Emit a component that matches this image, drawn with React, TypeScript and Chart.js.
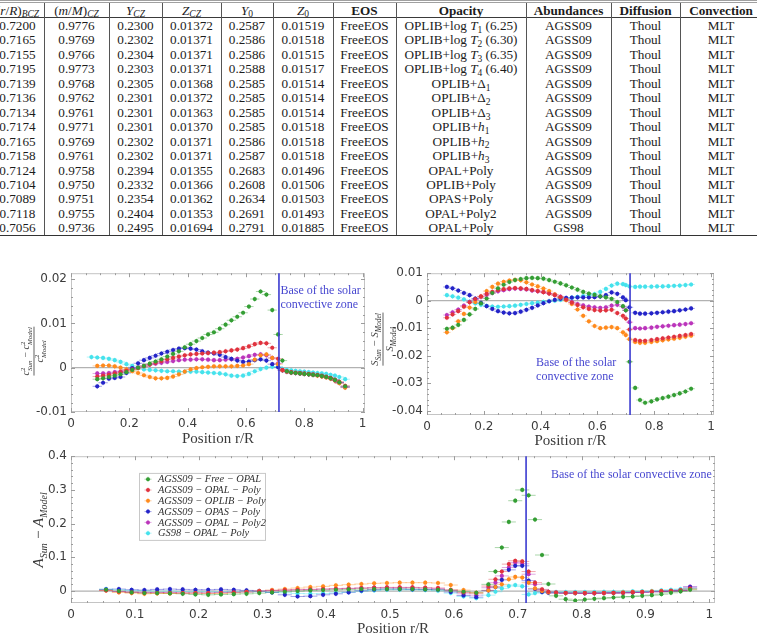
import React, { useEffect, useRef } from "react";
import { Chart, registerables } from "chart.js";

Chart.register(...registerables);

// ---------------- model table ----------------
const rBcz = ["0.7200", "0.7165", "0.7155", "0.7195", "0.7139", "0.7136", "0.7134", "0.7174", "0.7165", "0.7158", "0.7124", "0.7104", "0.7089", "0.7118", "0.7056"];
const mCz = ["0.9776", "0.9769", "0.9766", "0.9773", "0.9768", "0.9762", "0.9761", "0.9771", "0.9769", "0.9761", "0.9758", "0.9750", "0.9751", "0.9755", "0.9736"];
const yCz = ["0.2300", "0.2302", "0.2304", "0.2303", "0.2305", "0.2301", "0.2301", "0.2301", "0.2302", "0.2302", "0.2394", "0.2332", "0.2354", "0.2404", "0.2495"];
const zCz = ["0.01372", "0.01371", "0.01371", "0.01371", "0.01368", "0.01372", "0.01363", "0.01370", "0.01371", "0.01371", "0.01355", "0.01366", "0.01362", "0.01353", "0.01694"];
const yInit = ["0.2587", "0.2586", "0.2586", "0.2588", "0.2585", "0.2585", "0.2585", "0.2585", "0.2586", "0.2587", "0.2683", "0.2608", "0.2634", "0.2691", "0.2791"];
const zInit = ["0.01519", "0.01518", "0.01515", "0.01517", "0.01514", "0.01514", "0.01514", "0.01518", "0.01518", "0.01518", "0.01496", "0.01506", "0.01503", "0.01493", "0.01885"];
const eosList = ["FreeEOS", "FreeEOS", "FreeEOS", "FreeEOS", "FreeEOS", "FreeEOS", "FreeEOS", "FreeEOS", "FreeEOS", "FreeEOS", "FreeEOS", "FreeEOS", "FreeEOS", "FreeEOS", "FreeEOS"];
const opacityList = ["OPLIB+log T_1 (6.25)", "OPLIB+log T_2 (6.30)", "OPLIB+log T_3 (6.35)", "OPLIB+log T_4 (6.40)", "OPLIB+Δ_1", "OPLIB+Δ_2", "OPLIB+Δ_3", "OPLIB+h_1", "OPLIB+h_2", "OPLIB+h_3", "OPAL+Poly", "OPLIB+Poly", "OPAS+Poly", "OPAL+Poly2", "OPAL+Poly"];
const abundanceList = ["AGSS09", "AGSS09", "AGSS09", "AGSS09", "AGSS09", "AGSS09", "AGSS09", "AGSS09", "AGSS09", "AGSS09", "AGSS09", "AGSS09", "AGSS09", "AGSS09", "GS98"];
const diffusionList = ["Thoul", "Thoul", "Thoul", "Thoul", "Thoul", "Thoul", "Thoul", "Thoul", "Thoul", "Thoul", "Thoul", "Thoul", "Thoul", "Thoul", "Thoul"];
const convectionList = ["MLT", "MLT", "MLT", "MLT", "MLT", "MLT", "MLT", "MLT", "MLT", "MLT", "MLT", "MLT", "MLT", "MLT", "MLT"];

// ---------------- series ----------------
const seriesLabels = [
  "AGSS09 − Free − OPAL",
  "AGSS09 − OPAL − Poly",
  "AGSS09 − OPLIB − Poly",
  "AGSS09 − OPAS − Poly",
  "AGSS09 − OPAL − Poly2",
  "GS98 − OPAL − Poly",
];
const COLORS = ["#349e34", "#e0323e", "#ff8a1c", "#2424c8", "#bb35bb", "#45e2ec"];

// sound-speed relative differences
const rA = [0.07, 0.09, 0.11, 0.13, 0.15, 0.17, 0.19, 0.21, 0.23, 0.25, 0.27, 0.29, 0.31, 0.33, 0.35, 0.37, 0.39, 0.41, 0.43, 0.45, 0.47, 0.49, 0.51, 0.53, 0.55, 0.57, 0.59, 0.61, 0.63, 0.65, 0.67, 0.69, 0.71,
  0.725, 0.74, 0.755, 0.77, 0.785, 0.8, 0.815, 0.83, 0.845, 0.86, 0.875, 0.89, 0.905, 0.92, 0.94];
const greenA = [null, -0.0026, -0.0024, -0.0021, -0.0018, -0.0015, -0.0010, -0.0005, 0.0000, 0.0004, 0.0009, 0.0014, 0.0019, 0.0025, 0.0031, 0.0037, 0.0046, 0.0053, 0.0060, 0.0067, 0.0075, 0.0080, 0.0088, 0.0097, 0.0107, 0.0115, 0.0124, 0.0138, 0.0155, 0.0172, 0.0165, 0.0130, 0.0075,
  0.0016, -0.0008, -0.0011, -0.0012, -0.0013, -0.0014, -0.0015, -0.0016, -0.0017, -0.0019, -0.0021, -0.0024, -0.0028, -0.0033, -0.0042];
const redA = [null, -0.0020, -0.0018, -0.0016, -0.0013, -0.0010, -0.0007, -0.0004, -0.0001, 0.0003, 0.0007, 0.0011, 0.0015, 0.0019, 0.0022, 0.0025, 0.0028, 0.0030, 0.0031, 0.0032, 0.0033, 0.0034, 0.0035, 0.0037, 0.0039, 0.0041, 0.0044, 0.0048, 0.0053, 0.0056, 0.0055, 0.0045, 0.0020,
  -0.0005, -0.0008, -0.0010, -0.0011, -0.0012, -0.0013, -0.0014, -0.0015, -0.0016, -0.0018, -0.0020, -0.0023, -0.0027, -0.0032, -0.0041];
const orangeA = [null, 0.0004, 0.0005, 0.0005, 0.0003, 0.0000, -0.0004, -0.0008, -0.0012, -0.0017, -0.0021, -0.0024, -0.0024, -0.0023, -0.0020, -0.0015, -0.0009, -0.0004, -0.0001, 0.0001, 0.0002, 0.0003, 0.0003, 0.0003, 0.0003, 0.0004, 0.0005, 0.0008, 0.0018, 0.0028, 0.0030, 0.0022, 0.0008,
  -0.0006, -0.0009, -0.0011, -0.0012, -0.0013, -0.0014, -0.0015, -0.0016, -0.0018, -0.0020, -0.0022, -0.0025, -0.0029, -0.0035, -0.0045];
const blueA = [null, -0.0042, -0.0034, -0.0025, -0.0023, -0.0021, -0.0012, -0.0001, 0.0010, 0.0017, 0.0022, 0.0027, 0.0032, 0.0036, 0.0040, 0.0043, 0.0044, 0.0043, 0.0041, 0.0037, 0.0034, 0.0032, 0.0029, 0.0024, 0.0020, 0.0016, 0.0013, 0.0014, 0.0017, 0.0019, 0.0016, 0.0008, 0.0001,
  -0.0006, -0.0009, -0.0011, -0.0012, -0.0013, -0.0014, -0.0015, -0.0016, -0.0017, -0.0019, -0.0021, -0.0024, -0.0028, -0.0034, -0.0044];
const magentaA = [null, -0.0013, -0.0013, -0.0012, -0.0010, -0.0008, -0.0005, -0.0002, 0.0001, 0.0004, 0.0007, 0.0009, 0.0011, 0.0013, 0.0015, 0.0017, 0.0018, 0.0018, 0.0019, 0.0019, 0.0018, 0.0017, 0.0017, 0.0018, 0.0019, 0.0020, 0.0023, 0.0026, 0.0029, 0.0030, 0.0028, 0.0022, 0.0010,
  -0.0006, -0.0009, -0.0011, -0.0012, -0.0013, -0.0014, -0.0015, -0.0016, -0.0017, -0.0019, -0.0021, -0.0024, -0.0029, -0.0034, -0.0043];
const cyanA = [0.0024, 0.0023, 0.0022, 0.0020, 0.0017, 0.0013, 0.0008, 0.0004, 0.0000, -0.0004, -0.0005, -0.0006, -0.0007, -0.0008, -0.0008, -0.0009, -0.0009, -0.0009, -0.0009, -0.0010, -0.0011, -0.0012, -0.0013, -0.0015, -0.0018, -0.0019, -0.0018, -0.0014, -0.0008, -0.0003, 0.0000, 0.0002, 0.0002,
  -0.0003, -0.0005, -0.0006, -0.0007, -0.0008, -0.0009, -0.0010, -0.0011, -0.0012, -0.0013, -0.0014, -0.0016, -0.0018, -0.0021, -0.0026];

// entropy-proxy relative differences
const rB = [0.07, 0.09, 0.11, 0.13, 0.15, 0.17, 0.19, 0.21, 0.23, 0.25, 0.27, 0.29, 0.31, 0.33, 0.35, 0.37, 0.39, 0.41, 0.43, 0.45, 0.47, 0.49, 0.51, 0.53, 0.55, 0.57, 0.59, 0.61, 0.63, 0.65, 0.67, 0.69,
  0.70, 0.713, 0.733, 0.75, 0.768, 0.79, 0.81, 0.83, 0.85, 0.87, 0.89, 0.91, 0.93];
const greenB = [-0.0102, -0.0098, -0.0088, -0.0070, -0.0050, -0.0030, -0.0010, 0.0008, 0.0028, 0.0045, 0.0058, 0.0068, 0.0075, 0.0079, 0.0082, 0.0083, 0.0082, 0.0080, 0.0075, 0.0069, 0.0063, 0.0056, 0.0048, 0.0040, 0.0032, 0.0026, 0.0021, 0.0016, 0.0012, 0.0007, -0.0005, -0.0020,
  -0.0035, -0.0222, -0.0317, -0.0361, -0.0371, -0.0366, -0.0359, -0.0354, -0.0349, -0.0343, -0.0337, -0.0330, -0.0320];
const redB = [-0.0062, -0.0050, -0.0038, -0.0022, -0.0006, 0.0006, 0.0016, 0.0025, 0.0032, 0.0038, 0.0042, 0.0045, 0.0046, 0.0045, 0.0043, 0.0039, 0.0035, 0.0031, 0.0026, 0.0020, 0.0013, 0.0004, -0.0007, -0.0016, -0.0024, -0.0030, -0.0034, -0.0036, -0.0035, -0.0033, -0.0045, -0.0055,
  -0.0065, -0.0105, -0.0143, -0.0146, -0.0146, -0.0143, -0.0140, -0.0137, -0.0134, -0.0131, -0.0128, -0.0125, -0.0121];
const orangeB = [-0.0115, -0.0100, -0.0075, -0.0048, -0.0025, -0.0005, 0.0015, 0.0035, 0.0050, 0.0062, 0.0069, 0.0073, 0.0076, 0.0074, 0.0067, 0.0059, 0.0052, 0.0044, 0.0035, 0.0023, 0.0012, 0.0002, -0.0012, -0.0032, -0.0055, -0.0075, -0.0092, -0.0100, -0.0098, -0.0096, -0.0100, -0.0115,
  -0.0125, -0.0140, -0.0150, -0.0153, -0.0153, -0.0150, -0.0147, -0.0144, -0.0141, -0.0138, -0.0135, -0.0131, -0.0127];
const blueB = [0.0050, 0.0045, 0.0037, 0.0028, 0.0020, 0.0008, -0.0008, -0.0020, -0.0030, -0.0038, -0.0043, -0.0046, -0.0045, -0.0040, -0.0033, -0.0026, -0.0017, -0.0009, -0.0002, 0.0003, 0.0007, 0.0010, 0.0011, 0.0012, 0.0012, 0.0012, 0.0013, 0.0015, 0.0020, 0.0030, 0.0025, 0.0012,
  0.0002, -0.0024, -0.0044, -0.0047, -0.0047, -0.0046, -0.0044, -0.0042, -0.0040, -0.0038, -0.0035, -0.0032, -0.0028];
const magentaB = [-0.0052, -0.0042, -0.0032, -0.0018, -0.0004, 0.0005, 0.0013, 0.0021, 0.0028, 0.0034, 0.0038, 0.0042, 0.0044, 0.0043, 0.0041, 0.0037, 0.0034, 0.0031, 0.0027, 0.0022, 0.0015, 0.0007, -0.0005, -0.0012, -0.0017, -0.0021, -0.0024, -0.0026, -0.0024, -0.0018, -0.0015, -0.0022,
  -0.0035, -0.0078, -0.0100, -0.0101, -0.0100, -0.0098, -0.0095, -0.0093, -0.0091, -0.0089, -0.0087, -0.0085, -0.0082];
const cyanB = [0.0020, 0.0016, 0.0011, 0.0005, -0.0003, -0.0010, -0.0015, -0.0019, -0.0021, -0.0022, -0.0021, -0.0020, -0.0018, -0.0015, -0.0012, -0.0009, -0.0007, -0.0004, -0.0002, 0.0000, 0.0003, 0.0007, 0.0011, 0.0014, 0.0017, 0.0020, 0.0024, 0.0032, 0.0043, 0.0055, 0.0062, 0.0060,
  0.0057, 0.0052, 0.0050, 0.0051, 0.0051, 0.0051, 0.0052, 0.0052, 0.0053, 0.0054, 0.0055, 0.0057, 0.0059];

// Ledoux discriminant differences
const rC = [0.055, 0.075, 0.095, 0.115, 0.135, 0.155, 0.175, 0.195, 0.215, 0.235, 0.255, 0.275, 0.295, 0.315, 0.335, 0.355, 0.375, 0.395, 0.415, 0.435, 0.455, 0.475, 0.495, 0.515, 0.535, 0.555, 0.575, 0.595, 0.615, 0.635,
  0.654, 0.665, 0.675, 0.686, 0.696, 0.707, 0.717, 0.727, 0.738, 0.748,
  0.76, 0.775, 0.79, 0.805, 0.82, 0.835, 0.85, 0.865, 0.88, 0.895, 0.91, 0.925, 0.94, 0.955, 0.97];
const greenC = [0.004, 0.000, -0.004, -0.006, -0.006, -0.007, -0.008, -0.010, -0.011, -0.010, -0.009, -0.008, -0.006, -0.004, -0.002, 0.000, 0.002, 0.003, 0.004, 0.005, 0.006, 0.006, 0.006, 0.006, 0.006, 0.005, 0.004, 0.002, -0.002, -0.005,
  0.020, 0.058, 0.129, 0.205, 0.268, 0.300, 0.284, 0.212, 0.107, 0.021,
  -0.014, -0.024, -0.028, -0.025, -0.023, -0.021, -0.019, -0.017, -0.016, -0.014, -0.012, -0.009, -0.005, -0.001, 0.004];
const redC = [0.002, -0.002, -0.004, -0.005, -0.005, -0.005, -0.006, -0.006, -0.006, -0.005, -0.004, -0.003, -0.001, 0.001, 0.003, 0.004, 0.005, 0.006, 0.007, 0.008, 0.009, 0.010, 0.011, 0.011, 0.011, 0.010, 0.009, 0.004, -0.004, -0.006,
  0.015, 0.035, 0.058, 0.080, 0.090, 0.088, 0.058, 0.025, 0.005, -0.002,
  -0.004, -0.005, -0.005, -0.006, -0.006, -0.006, -0.005, -0.005, -0.004, -0.003, -0.002, -0.001, 0.001, 0.002, 0.008];
const orangeC = [0.002, -0.004, -0.006, -0.008, -0.007, -0.007, -0.006, -0.006, -0.007, -0.007, -0.005, -0.002, 0.000, 0.003, 0.006, 0.009, 0.012, 0.014, 0.017, 0.019, 0.021, 0.023, 0.024, 0.025, 0.025, 0.025, 0.024, 0.018, 0.003, -0.005,
  0.002, 0.012, 0.020, 0.035, 0.042, 0.040, 0.025, 0.008, 0.000, -0.004,
  -0.005, -0.006, -0.006, -0.006, -0.006, -0.005, -0.005, -0.004, -0.003, -0.002, -0.001, 0.000, 0.001, 0.002, 0.006];
const blueC = [0.005, 0.006, 0.004, 0.003, 0.005, 0.006, 0.005, 0.004, 0.004, 0.005, 0.004, 0.002, 0.000, -0.004, -0.011, -0.016, -0.015, -0.011, -0.008, -0.004, 0.001, 0.004, 0.006, 0.006, 0.005, 0.005, 0.004, -0.003, -0.013, -0.018,
  0.002, 0.012, 0.033, 0.063, 0.075, 0.075, 0.031, 0.006, -0.003, -0.005,
  -0.005, -0.006, -0.006, -0.006, -0.006, -0.005, -0.005, -0.005, -0.004, -0.003, -0.002, -0.001, 0.000, 0.002, 0.012];
const magentaC = [0.003, -0.001, -0.003, -0.004, -0.004, -0.004, -0.005, -0.005, -0.005, -0.004, -0.003, -0.002, 0.000, 0.002, 0.003, 0.004, 0.005, 0.006, 0.007, 0.008, 0.009, 0.010, 0.010, 0.010, 0.010, 0.009, 0.008, 0.002, -0.008, -0.012,
  0.010, 0.025, 0.045, 0.070, 0.085, 0.081, 0.050, 0.020, 0.003, -0.003,
  -0.005, -0.006, -0.006, -0.007, -0.007, -0.006, -0.006, -0.005, -0.004, -0.003, -0.002, -0.001, 0.001, 0.003, 0.013];
const cyanC = [0.006, 0.004, 0.002, 0.001, 0.000, 0.000, -0.001, -0.002, -0.002, -0.002, -0.002, -0.002, -0.002, -0.003, -0.005, -0.007, -0.008, -0.007, -0.005, -0.003, 0.000, 0.002, 0.004, 0.004, 0.004, 0.003, 0.001, -0.006, -0.016, -0.021,
  -0.012, -0.002, 0.008, 0.015, 0.018, 0.014, -0.010, -0.006, -0.003, -0.003,
  -0.003, -0.003, -0.003, -0.003, -0.003, -0.002, -0.002, -0.002, -0.001, -0.001, 0.000, 0.002, 0.004, 0.006, 0.008];

// axis ticks
const xTicksTop = [0, 0.2, 0.4, 0.6, 0.8, 1];
const yTicksA = [-0.01, 0, 0.01, 0.02];
const yTicksB = [-0.04, -0.03, -0.02, -0.01, 0, 0.01];
const xTicksC = [0, 0.1, 0.2, 0.3, 0.4, 0.5, 0.6, 0.7, 0.8, 0.9, 1];
const yTicksC = [0, 0.1, 0.2, 0.3, 0.4];

// half-width of the radial resolution of each inversion point
const resolutionA = 0.016;
const resolutionB = 0.013;
const resolutionC = 0.011;

// base of the convective zone
const rCzA = 0.713;
const rCzB = 0.715;
const rCzC = 0.713;

// ---------------- drawing helpers ----------------
const SERIF = '"Liberation Serif", "Times New Roman", serif';
const SANS = '"DejaVu Sans", sans-serif';
const NOTE_BLUE = "#4848d0";
const CZ_BLUE = "#3b3bd0";

type Seg = { t?: string; it?: boolean; sup?: string; sub?: string };

function fontOf(size: number, it?: boolean) {
  return `${it ? "italic " : ""}${size}px ${SERIF}`;
}
function segW(ctx: CanvasRenderingContext2D, s: Seg, size: number, small: number) {
  if (s.t !== undefined) {
    ctx.font = fontOf(size, s.it);
    return ctx.measureText(s.t).width;
  }
  let w = 0;
  if (s.sup) { ctx.font = fontOf(small); w = Math.max(w, ctx.measureText(s.sup).width); }
  if (s.sub) { ctx.font = fontOf(small, true); w = Math.max(w, ctx.measureText(s.sub).width); }
  return w + 0.5;
}
function drawRich(ctx: CanvasRenderingContext2D, segs: Seg[], cx: number, baseY: number, size: number, small: number) {
  const total = segs.reduce((acc, s) => acc + segW(ctx, s, size, small), 0);
  let x = cx - total / 2;
  ctx.textAlign = "left";
  ctx.textBaseline = "alphabetic";
  for (const s of segs) {
    const w = segW(ctx, s, size, small);
    if (s.t !== undefined) {
      ctx.font = fontOf(size, s.it);
      ctx.fillText(s.t, x, baseY);
    } else {
      if (s.sup) { ctx.font = fontOf(small); ctx.fillText(s.sup, x, baseY - size * 0.42); }
      if (s.sub) { ctx.font = fontOf(small, true); ctx.fillText(s.sub, x, baseY + size * 0.28); }
    }
    x += w;
  }
  return total;
}

function withAlpha(hex: string, a: number) {
  const n = parseInt(hex.slice(1), 16);
  return `rgba(${(n >> 16) & 255},${(n >> 8) & 255},${n & 255},${a})`;
}

const fmt = (v: number | string) => String(Math.round(Number(v) * 1000) / 1000);

type YTitle = { dx: number; dy: number; num: Seg[]; den?: Seg[]; size: number; small: number };

type PanelSpec = {
  r: number[];
  series: (number | null)[][];
  xMin: number; xMax: number; yMin: number; yMax: number;
  xTicks: number[]; yTicks: number[];
  xMinor: number; yMinor: number;
  yAxisW: number; xAxisH: number; padTop: number; padRight: number;
  cz: number; spread: number;
  note: { x: number; y: number; lines: string[]; lh: number };
  xTitleDy: number;
  yTitle: YTitle;
  legend?: { dx: number; dy: number; w: number; h: number; rowH: number };
};

function near(list: number[], v: number) {
  return list.some((t) => Math.abs(t - v) < 1e-6);
}

function decorPlugin(spec: PanelSpec) {
  return {
    id: "decor",
    beforeDatasetsDraw(chart: any) {
      const { ctx, chartArea: a } = chart;
      const xs = chart.scales.x, ys = chart.scales.y;
      ctx.save();
      ctx.beginPath();
      ctx.rect(a.left, a.top, a.right - a.left, a.bottom - a.top);
      ctx.clip();
      // zero reference line
      const yz = ys.getPixelForValue(0);
      ctx.strokeStyle = "#b2b2b2";
      ctx.lineWidth = 1.3;
      ctx.beginPath();
      ctx.moveTo(a.left, yz);
      ctx.lineTo(a.right, yz);
      ctx.stroke();
      // resolution bars
      ctx.lineWidth = 1;
      chart.data.datasets.forEach((ds: any, i: number) => {
        ctx.strokeStyle = withAlpha(COLORS[i], 0.42);
        ctx.beginPath();
        ds.data.forEach((p: { x: number; y: number }) => {
          const py = ys.getPixelForValue(p.y);
          const px = xs.getPixelForValue(p.x);
          ctx.moveTo(xs.getPixelForValue(p.x - spec.spread), py);
          ctx.lineTo(xs.getPixelForValue(p.x + spec.spread), py);
          ctx.moveTo(px, py - 2.5);
          ctx.lineTo(px, py + 2.5);
        });
        ctx.stroke();
      });
      ctx.restore();
    },
    afterDatasetsDraw(chart: any) {
      const { ctx, chartArea: a } = chart;
      const xs = chart.scales.x, ys = chart.scales.y;
      ctx.save();
      // frame
      ctx.strokeStyle = "#c4c4c4";
      ctx.lineWidth = 1;
      ctx.strokeRect(a.left + 0.5, a.top + 0.5, a.right - a.left - 1, a.bottom - a.top - 1);
      // inward ticks on all sides
      ctx.strokeStyle = "#9c9c9c";
      ctx.beginPath();
      for (let k = Math.ceil(spec.xMin / spec.xMinor - 1e-9); k * spec.xMinor <= spec.xMax + 1e-9; k++) {
        const v = k * spec.xMinor;
        const px = Math.round(xs.getPixelForValue(v)) + 0.5;
        const L = near(spec.xTicks, v) ? 4 : 2;
        ctx.moveTo(px, a.bottom); ctx.lineTo(px, a.bottom - L);
        ctx.moveTo(px, a.top); ctx.lineTo(px, a.top + L);
      }
      for (let k = Math.ceil(spec.yMin / spec.yMinor - 1e-9); k * spec.yMinor <= spec.yMax + 1e-9; k++) {
        const v = k * spec.yMinor;
        const py = Math.round(ys.getPixelForValue(v)) + 0.5;
        const L = near(spec.yTicks, v) ? 4 : 2;
        ctx.moveTo(a.left, py); ctx.lineTo(a.left + L, py);
        ctx.moveTo(a.right, py); ctx.lineTo(a.right - L, py);
      }
      ctx.stroke();

      // base of the convective zone
      const cx = xs.getPixelForValue(spec.cz);
      ctx.strokeStyle = CZ_BLUE;
      ctx.lineWidth = 1.6;
      ctx.beginPath();
      ctx.moveTo(cx, a.top);
      ctx.lineTo(cx, a.bottom);
      ctx.stroke();
      ctx.fillStyle = NOTE_BLUE;
      ctx.font = `12px ${SERIF}`;
      ctx.textAlign = "left";
      ctx.textBaseline = "middle";
      const nx = xs.getPixelForValue(spec.note.x);
      const ny = ys.getPixelForValue(spec.note.y);
      spec.note.lines.forEach((ln, i) => ctx.fillText(ln, nx, ny + i * spec.note.lh));

      // axis titles
      ctx.fillStyle = "#3a3a3a";
      ctx.font = `15px ${SERIF}`;
      ctx.textAlign = "center";
      ctx.textBaseline = "middle";
      ctx.fillText("Position r/R", (a.left + a.right) / 2, a.bottom + spec.xTitleDy);

      const t = spec.yTitle;
      ctx.save();
      ctx.translate(a.left + t.dx, (a.top + a.bottom) / 2 + t.dy);
      ctx.rotate(-Math.PI / 2);
      if (t.den) {
        const wn = drawRich(ctx, t.num, 0, -t.small * 0.45 - 1.5, t.size, t.small);
        const wd = drawRich(ctx, t.den, 0, t.size * 0.78 + 1.5, t.size, t.small);
        const w = Math.max(wn, wd);
        ctx.fillRect(-w / 2, -0.4, w, 0.8);
      } else {
        drawRich(ctx, t.num, 0, t.size * 0.3, t.size, t.small);
      }
      ctx.restore();

      // legend
      if (spec.legend) {
        const L = spec.legend;
        const lx = a.left + L.dx, ly = a.top + L.dy;
        ctx.fillStyle = "#ffffff";
        ctx.fillRect(lx, ly, L.w, L.h);
        ctx.strokeStyle = "#c8c8c8";
        ctx.lineWidth = 1;
        ctx.strokeRect(lx + 0.5, ly + 0.5, L.w, L.h);
        seriesLabels.forEach((lab, i) => {
          const yy = ly + 6.3 + i * L.rowH;
          ctx.strokeStyle = withAlpha(COLORS[i], 0.45);
          ctx.beginPath();
          ctx.moveTo(lx + 5.5, yy); ctx.lineTo(lx + 12.5, yy);
          ctx.moveTo(lx + 9, yy - 2.5); ctx.lineTo(lx + 9, yy + 2.5);
          ctx.stroke();
          ctx.fillStyle = COLORS[i];
          ctx.beginPath();
          ctx.arc(lx + 9, yy, 2, 0, Math.PI * 2);
          ctx.fill();
          ctx.fillStyle = "#333";
          ctx.font = `italic 10.4px ${SERIF}`;
          ctx.textAlign = "left";
          ctx.textBaseline = "middle";
          ctx.fillText(lab, lx + 19, yy + 0.5);
        });
      }
      ctx.restore();
    },
  };
}

function buildConfig(spec: PanelSpec): any {
  const datasets = spec.series.map((s, i) => ({
    label: seriesLabels[i],
    data: spec.r
      .map((x, j) => ({ x, y: s[j] }))
      .filter((p) => p.y !== null && p.y !== undefined),
    backgroundColor: COLORS[i],
    borderColor: COLORS[i],
    pointRadius: 2.1,
    pointBorderWidth: 0,
    pointHoverRadius: 2.1,
    showLine: false,
  }));
  const tickFont = { family: SANS, size: 12 };
  return {
    type: "scatter",
    data: { datasets },
    options: {
      animation: false,
      responsive: false,
      events: [],
      layout: { padding: { top: spec.padTop, right: spec.padRight, left: 0, bottom: 0 } },
      plugins: { legend: { display: false }, tooltip: { enabled: false } },
      scales: {
        x: {
          type: "linear",
          min: spec.xMin,
          max: spec.xMax,
          border: { display: false },
          grid: { display: false, drawTicks: false },
          ticks: { color: "#3c3c3c", font: tickFont, padding: 5, maxRotation: 0, autoSkip: false, callback: fmt },
          afterBuildTicks: (s: any) => { s.ticks = spec.xTicks.map((v) => ({ value: v })); },
          afterFit: (s: any) => { s.height = spec.xAxisH; },
        },
        y: {
          type: "linear",
          min: spec.yMin,
          max: spec.yMax,
          border: { display: false },
          grid: { display: false, drawTicks: false },
          ticks: { color: "#3c3c3c", font: tickFont, padding: 4, autoSkip: false, callback: fmt },
          afterBuildTicks: (s: any) => { s.ticks = spec.yTicks.map((v) => ({ value: v })); },
          afterFit: (s: any) => { s.width = spec.yAxisW; },
        },
      },
    },
    plugins: [decorPlugin(spec)],
  };
}

const specA: PanelSpec = {
  r: rA,
  series: [greenA, redA, orangeA, blueA, magentaA, cyanA],
  xMin: 0, xMax: 1.008, yMin: -0.01, yMax: 0.02133,
  xTicks: xTicksTop, yTicks: yTicksA,
  xMinor: 0.05, yMinor: 0.002,
  yAxisW: 71, xAxisH: 40, padTop: 9, padRight: 15,
  cz: rCzA, spread: resolutionA,
  note: { x: 0.718, y: 0.0173, lines: ["Base of the solar", "convective zone"], lh: 14 },
  xTitleDy: 27,
  yTitle: {
    dx: -37, dy: 8.5, size: 10, small: 7,
    num: [{ t: "c", it: true }, { sup: "2", sub: "Sun" }, { t: " − " }, { t: "c", it: true }, { sup: "2", sub: "Model" }],
    den: [{ t: "c", it: true }, { sup: "2", sub: "Model" }],
  },
};

const specB: PanelSpec = {
  r: rB,
  series: [greenB, redB, orangeB, blueB, magentaB, cyanB],
  xMin: 0, xMax: 1.0106, yMin: -0.04155, yMax: 0.01,
  xTicks: xTicksTop, yTicks: yTicksB,
  xMinor: 0.05, yMinor: 0.002,
  yAxisW: 67, xAxisH: 37, padTop: 9, padRight: 43,
  cz: rCzB, spread: resolutionB,
  note: { x: 0.384, y: -0.0226, lines: ["Base of the solar", "convective zone"], lh: 13.5 },
  xTitleDy: 26,
  yTitle: {
    dx: -44, dy: -5, size: 10.5, small: 7.5,
    num: [{ t: "S", it: true }, { sub: "Sun" }, { t: " − " }, { t: "S", it: true }, { sub: "Model" }],
    den: [{ t: "S", it: true }, { sub: "Model" }],
  },
};

const specC: PanelSpec = {
  r: rC,
  series: [greenC, redC, orangeC, blueC, magentaC, cyanC],
  xMin: 0, xMax: 1.009, yMin: -0.0353, yMax: 0.4,
  xTicks: xTicksC, yTicks: yTicksC,
  xMinor: 0.025, yMinor: 0.02,
  yAxisW: 71, xAxisH: 32, padTop: 9, padRight: 42,
  cz: rCzC, spread: resolutionC,
  note: { x: 0.752, y: 0.345, lines: ["Base of the solar convective zone"], lh: 14 },
  xTitleDy: 26,
  yTitle: {
    dx: -33, dy: 0, size: 15, small: 10,
    num: [{ t: "A", it: true }, { sub: "Sun" }, { t: " − " }, { t: "A", it: true }, { sub: "Model" }],
  },
  legend: { dx: 68, dy: 16.7, w: 126, h: 67, rowH: 10.8 },
};

function Plot({ left, top, width, height, spec }: { left: number; top: number; width: number; height: number; spec: PanelSpec }) {
  const ref = useRef<HTMLCanvasElement | null>(null);
  useEffect(() => {
    if (!ref.current) return;
    const chart = new Chart(ref.current, buildConfig(spec));
    return () => chart.destroy();
  }, [spec]);
  return (
    <canvas
      ref={ref}
      width={width}
      height={height}
      style={{ position: "absolute", left, top, width, height, display: "block" }}
    />
  );
}

// ---------------- table ----------------
const COL_EDGES = [-9, 44, 109, 162, 221, 273, 333, 396, 526, 611, 680, 762];
const HEADER_Y = 10.5;
const ROW0_Y = 26;
const ROW_PITCH = 14.45;

const subStyle: React.CSSProperties = { fontSize: "0.72em", position: "relative", top: "0.3em" };

function renderOpacity(s: string) {
  const parts = s.split(/([A-Za-zΔ])_(\d)/);
  const out: React.ReactNode[] = [];
  for (let i = 0; i < parts.length; i += 3) {
    if (parts[i]) out.push(<span key={`p${i}`}>{parts[i]}</span>);
    if (i + 2 < parts.length) {
      const sym = parts[i + 1];
      out.push(sym === "Δ" ? <span key={`s${i}`}>{sym}</span> : <i key={`s${i}`}>{sym}</i>);
      out.push(<span key={`d${i}`} style={subStyle}>{parts[i + 2]}</span>);
    }
  }
  return out;
}

const HEADERS: React.ReactNode[] = [
  <span>(<i>r</i>/<i>R</i>)<span style={subStyle}><i>BCZ</i></span></span>,
  <span>(<i>m</i>/<i>M</i>)<span style={subStyle}><i>CZ</i></span></span>,
  <span><i>Y</i><span style={subStyle}><i>CZ</i></span></span>,
  <span><i>Z</i><span style={subStyle}><i>CZ</i></span></span>,
  <span><i>Y</i><span style={subStyle}>0</span></span>,
  <span><i>Z</i><span style={subStyle}>0</span></span>,
  <b>EOS</b>,
  <b>Opacity</b>,
  <b>Abundances</b>,
  <b>Diffusion</b>,
  <b>Convection</b>,
];

function Cell({ col, cy, children }: { col: number; cy: number; children: React.ReactNode }) {
  const l = COL_EDGES[col];
  const w = COL_EDGES[col + 1] - l;
  return (
    <div
      style={{
        position: "absolute",
        left: l,
        width: w,
        top: cy - 8,
        height: 16,
        lineHeight: "16px",
        textAlign: "center",
        whiteSpace: "nowrap",
      }}
    >
      {children}
    </div>
  );
}

function ModelTable() {
  const columns = [rBcz, mCz, yCz, zCz, yInit, zInit, eosList, opacityList, abundanceList, diffusionList, convectionList];
  return (
    <div
      style={{
        position: "absolute",
        left: 0,
        top: 0,
        width: 757,
        height: 240,
        fontFamily: SERIF,
        fontSize: 13.2,
        color: "#1c1c1c",
      }}
    >
      <div style={{ position: "absolute", left: 0, top: 0, width: 757, height: 1, background: "#a0a0a0" }} />
      <div style={{ position: "absolute", left: 0, top: 2, width: 757, height: 1, background: "#a0a0a0" }} />
      <div style={{ position: "absolute", left: 0, top: 17, width: 757, height: 1, background: "#3a3a3a" }} />
      <div style={{ position: "absolute", left: 0, top: 234.5, width: 757, height: 1.6, background: "#333" }} />
      {COL_EDGES.slice(1, -1).map((e) => (
        <div key={e} style={{ position: "absolute", left: e, top: 3, width: 1, height: 232, background: "#555" }} />
      ))}
      {HEADERS.map((h, c) => (
        <Cell key={`h${c}`} col={c} cy={HEADER_Y}>{h}</Cell>
      ))}
      {rBcz.map((_, r) =>
        columns.map((col, c) => (
          <Cell key={`${r}-${c}`} col={c} cy={ROW0_Y + r * ROW_PITCH}>
            {c === 7 ? renderOpacity(col[r]) : col[r]}
          </Cell>
        ))
      )}
    </div>
  );
}

export default function App() {
  return (
    <div
      style={{
        position: "fixed",
        left: 0,
        top: 0,
        width: 757,
        height: 635,
        background: "#ffffff",
        overflow: "hidden",
      }}
    >
      <ModelTable />
      <Plot left={0} top={262} width={380} height={190} spec={specA} />
      <Plot left={360} top={262} width={397} height={190} spec={specB} />
      <Plot left={0} top={445} width={757} height={190} spec={specC} />
    </div>
  );
}
